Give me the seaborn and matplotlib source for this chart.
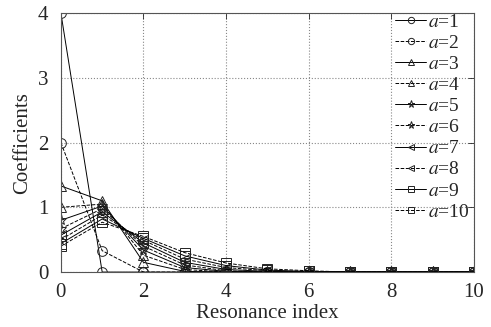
import matplotlib
matplotlib.use("Agg")
import matplotlib.pyplot as plt
import seaborn as sns
import numpy as np
import pandas as pd

sns.set_style("white")
plt.rcParams['font.family'] = ['Liberation Serif', 'DejaVu Serif']
plt.rcParams['mathtext.fontset'] = 'stix'

index = list(range(11))
a_labels = ["$a$=1", "$a$=2", "$a$=3", "$a$=4", "$a$=5",
            "$a$=6", "$a$=7", "$a$=8", "$a$=9", "$a$=10"]
a1 = [4.00, 0.00, 0.00, 0.00, 0.00, 0.00, 0.00, 0.00, 0.00, 0.00, 0.00]
a2 = [2.00, 0.33, 0.00, 0.00, 0.00, 0.00, 0.00, 0.00, 0.00, 0.00, 0.00]
a3 = [1.33, 1.10, 0.15, 0.01, 0.00, 0.00, 0.00, 0.00, 0.00, 0.00, 0.00]
a4 = [1.00, 1.05, 0.26, 0.04, 0.00, 0.00, 0.00, 0.00, 0.00, 0.00, 0.00]
a5 = [0.80, 1.02, 0.34, 0.07, 0.01, 0.00, 0.00, 0.00, 0.00, 0.00, 0.00]
a6 = [0.67, 0.98, 0.40, 0.11, 0.02, 0.00, 0.00, 0.00, 0.00, 0.00, 0.00]
a7 = [0.57, 0.93, 0.45, 0.15, 0.04, 0.01, 0.00, 0.00, 0.00, 0.00, 0.00]
a8 = [0.50, 0.88, 0.49, 0.20, 0.07, 0.02, 0.00, 0.00, 0.00, 0.00, 0.00]
a9 = [0.44, 0.82, 0.52, 0.25, 0.10, 0.03, 0.01, 0.00, 0.00, 0.00, 0.00]
a10 = [0.40, 0.77, 0.55, 0.30, 0.14, 0.05, 0.02, 0.00, 0.00, 0.00, 0.00]
series = [a1, a2, a3, a4, a5, a6, a7, a8, a9, a10]

markers = ['o', 'o', '^', '^', '*', '*', '<', '<', 's', 's']
linestyles = ['-', '--', '-', '--', '-', '--', '-', '--', '-', '--']

fig = plt.figure(figsize=(4.91, 3.27), dpi=100)
ax = fig.add_axes([0.124, 0.168, 0.841, 0.792])

for lab, vals, m, ls in zip(a_labels, series, markers, linestyles):
    sns.lineplot(x=index, y=vals, ax=ax, color='black', marker=m,
                 markerfacecolor='none', markeredgecolor='#222222',
                 markersize=8 if m == '*' else 7, markeredgewidth=0.7,
                 linestyle=ls, linewidth=0.7, label=lab)

ax.set_xlim(0, 10)
ax.set_ylim(0, 4)
ax.set_xticks([0, 2, 4, 6, 8, 10])
ax.set_yticks([0, 1, 2, 3, 4])
ax.set_xlabel("Resonance index", fontsize=15, labelpad=1)
ax.set_ylabel("Coefficients", fontsize=15, labelpad=4)
ax.tick_params(labelsize=15, direction='in', top=True, right=True,
               length=4, width=0.6)
ax.tick_params(axis='x', pad=8)
ax.tick_params(axis='y', pad=9)
ax.grid(True, linestyle=':', color='#888888', linewidth=0.8)
for s in ax.spines.values():
    s.set_color('#555555')
    s.set_linewidth(0.8)

leg = ax.legend(loc='upper left', bbox_to_anchor=(0.81, 1.0), frameon=False,
                fontsize=14, handlelength=1.6, handletextpad=0.1,
                labelspacing=0.18, borderaxespad=0.0, borderpad=0.0,
                markerscale=0.65)

fig.savefig("out.png", dpi=100)
